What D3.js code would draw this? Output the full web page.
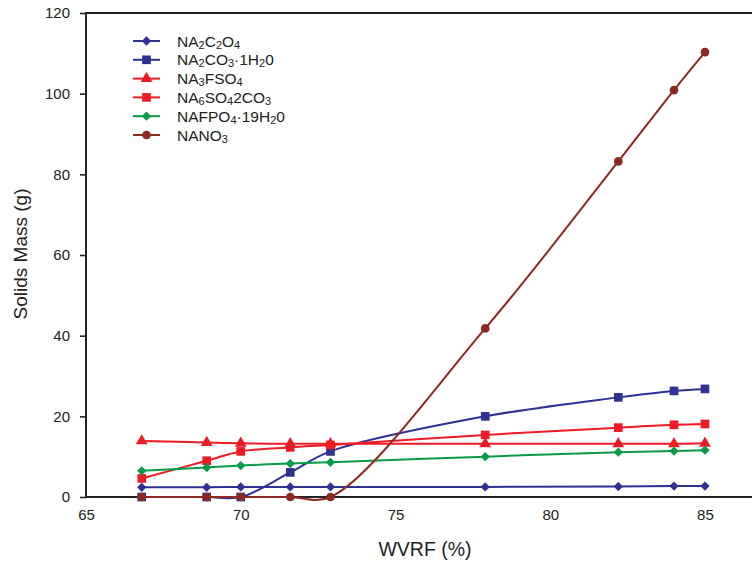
<!DOCTYPE html>
<html>
<head>
<meta charset="utf-8">
<title></title>
<style>
* { margin: 0; padding: 0; }
body { background: #fff; }
svg { display: block; font-family: "Liberation Sans", Arial, sans-serif; }
</style>
</head>
<body>
<script src="https://cdn.jsdelivr.net/npm/d3@7"></script>
<script>
// WVRF values (x)
var wvrf = [66.8, 68.9, 70.0, 71.6, 72.9, 77.9, 82.2, 84.0, 85.0];

// solids mass per phase (g); "_" marks a subscript character in the names
var names = ["NA_2C_2O_4", "NA_2CO_3·1H_20", "NA_3FSO_4", "NA_6SO_42CO_3", "NAFPO_4·19H_20", "NANO_3"];
var na2c2o4 = [2.4, 2.4, 2.5, 2.5, 2.5, 2.5, 2.6, 2.7, 2.7];
var na2co3 = [0, 0, 0, 6.1, 11.3, 20.0, 24.7, 26.3, 26.8];
var na3fso4 = [13.9, 13.5, 13.3, 13.2, 13.2, 13.2, 13.2, 13.2, 13.3];
var na6so4 = [4.6, 9.0, 11.3, 12.3, 12.9, 15.4, 17.2, 17.9, 18.1];
var nafpo4 = [6.5, 7.3, 7.8, 8.3, 8.6, 10.0, 11.1, 11.4, 11.6];
var nano3 = [0, 0, 0, 0, 0, 41.8, 83.2, 100.9, 110.3];

var xTicks = [65, 70, 75, 80, 85];
var yTicks = [0, 20, 40, 60, 80, 100, 120];

var colors = ["#2e3192", "#2e3192", "#ed1c24", "#ed1c24", "#0a9a48", "#8b2a20"];
var symbols = [d3.symbolDiamond2, d3.symbolSquare, d3.symbolTriangle, d3.symbolSquare, d3.symbolDiamond2, d3.symbolCircle];
var symSize = [55, 75, 60, 75, 55, 60];

var width = 752, height = 561;
var margin = { top: 13, right: 0, bottom: 64, left: 86 };
var font = "Liberation Sans, Arial, sans-serif";

var series = [na2c2o4, na2co3, na3fso4, na6so4, nafpo4, nano3].map(function (vals, i) {
  return { name: names[i], color: colors[i], symbol: symbols[i], size: symSize[i],
    points: vals.map(function (v, j) { return [wvrf[j], v]; }) };
});

var svg = d3.select("body").append("svg")
  .attr("width", width)
  .attr("height", height);

var x = d3.scaleLinear()
  .domain([65, 86.52])
  .range([margin.left, width - margin.right]);

var y = d3.scaleLinear()
  .domain([0, 120])
  .range([height - margin.bottom, margin.top]);

// y axis, ticks outward
var yAxis = svg.append("g")
  .attr("transform", "translate(" + margin.left + ",0)")
  .call(d3.axisLeft(y).tickValues(yTicks).tickSize(6).tickSizeOuter(0).tickPadding(10));
yAxis.select(".domain").remove();
yAxis.selectAll("line").attr("stroke", "#222").attr("stroke-width", 1.6);
yAxis.selectAll("text").attr("font-size", 15).attr("fill", "#222").attr("font-family", font);

// x axis, labels only
var xAxis = svg.append("g")
  .attr("transform", "translate(0," + (height - margin.bottom) + ")")
  .call(d3.axisBottom(x).tickValues(xTicks).tickSize(0).tickPadding(12));
xAxis.select(".domain").remove();
xAxis.selectAll("text").attr("font-size", 15).attr("fill", "#222").attr("font-family", font);

// frame lines: left, bottom, top
var frame = svg.append("g").attr("stroke", "#222").attr("stroke-width", 2).attr("fill", "none");
frame.append("line").attr("x1", x(65)).attr("x2", x(65)).attr("y1", y(120)).attr("y2", y(0));
frame.append("line").attr("x1", x(65) - 1).attr("x2", width).attr("y1", y(0)).attr("y2", y(0));
frame.append("line").attr("x1", x(65) - 1).attr("x2", width).attr("y1", y(120)).attr("y2", y(120));

// axis titles
svg.append("text")
  .attr("transform", "translate(27," + 254 + ") rotate(-90)")
  .attr("text-anchor", "middle")
  .attr("font-size", 19)
  .attr("fill", "#222")
  .text("Solids Mass (g)");

svg.append("text")
  .attr("x", 425)
  .attr("y", 556)
  .attr("text-anchor", "middle")
  .attr("font-size", 19.5)
  .attr("fill", "#222")
  .text("WVRF (%)");

// lines
var line = d3.line()
  .x(function (d) { return x(d[0]); })
  .y(function (d) { return y(d[1]); })
  .curve(d3.curveCatmullRom.alpha(0.5));

var g = svg.selectAll(".series")
  .data(series)
  .join("g")
  .attr("class", "series");

g.append("path")
  .attr("d", function (d) { return line(d.points); })
  .attr("fill", "none")
  .attr("stroke", function (d) { return d.color; })
  .attr("stroke-width", 2);

g.each(function (s) {
  d3.select(this).selectAll("path.pt")
    .data(s.points)
    .join("path")
    .attr("class", "pt")
    .attr("transform", function (d) { return "translate(" + x(d[0]) + "," + y(d[1]) + ")"; })
    .attr("d", d3.symbol().type(s.symbol).size(s.size))
    .attr("fill", s.color);
});

// legend text with small lowered digits
function addLabel(sel, str) {
  var lowered = false;
  for (var i = 0; i < str.length; i++) {
    if (str[i] === "_") {
      i++;
      sel.append("tspan").attr("font-size", 11).attr("dy", lowered ? 0 : 2).text(str[i]);
      lowered = true;
    } else {
      sel.append("tspan").attr("dy", lowered ? -2 : 0).text(str[i]);
      lowered = false;
    }
  }
}

var legend = svg.append("g").attr("transform", "translate(133,41)");
series.forEach(function (s, i) {
  var row = legend.append("g").attr("transform", "translate(0," + (i * 18.8) + ")");
  row.append("line").attr("x1", 0).attr("x2", 27).attr("stroke", s.color).attr("stroke-width", 2);
  row.append("path")
    .attr("transform", "translate(13.5,0)")
    .attr("d", d3.symbol().type(s.symbol).size(s.size))
    .attr("fill", s.color);
  var t = row.append("text").attr("x", 44).attr("y", 5.5).attr("font-size", 15.5).attr("fill", "#222");
  addLabel(t, s.name);
});
</script>
</body>
</html>
